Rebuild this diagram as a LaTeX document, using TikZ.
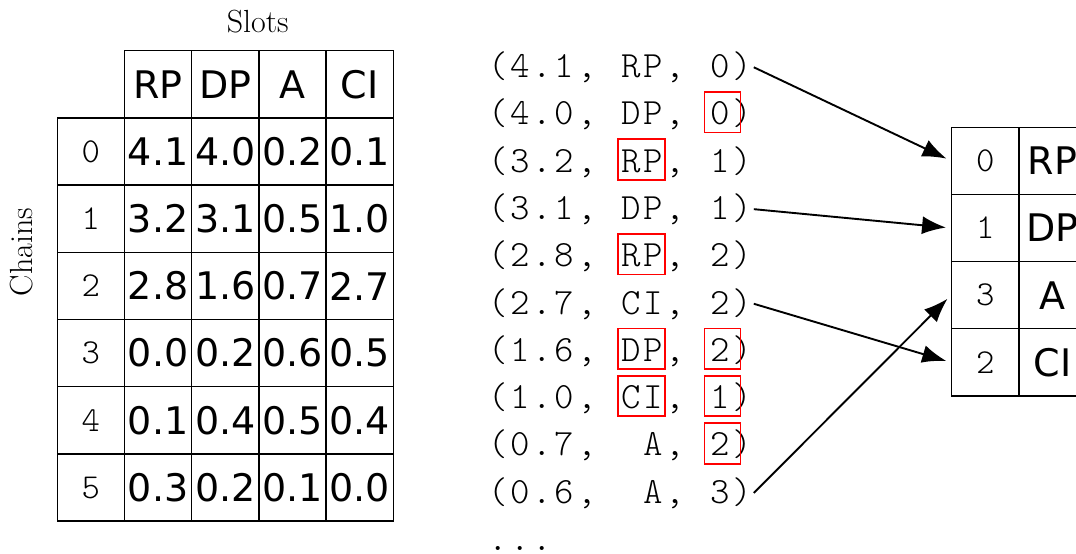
\documentclass[tikz,border=0pt]{standalone}
\usepackage{fontspec}
\newfontfamily\dvs{DejaVu Sans}
\usetikzlibrary{arrows.meta}
\def\mtloop#1{\ifx#1\relax\else\mtchar#1\expandafter\mtloop\fi}
\def\mtchar#1{\ifx#1*\hbox to 22.25pt{}\else\hbox to 22.25pt{\hss#1\hss}\fi}
\newcommand\mtline[1]{\mtloop#1\relax}
\tikzset{
 cell/.style={draw, line width=1.3pt, minimum width=67.2pt, minimum height=67.2pt, inner sep=0pt, font=\dvs\fontsize{38}{40}\selectfont},
 idx/.style={cell, font=\ttfamily\fontseries{l}\fontsize{35}{38}\selectfont},
 lst/.style={anchor=base west, inner sep=0pt, font=\ttfamily\fontseries{l}\fontsize{37}{40}\selectfont},
 redbox/.style={draw=red, line width=1.8pt, minimum height=40.5pt, inner sep=0pt},
 wordbox/.style={redbox, minimum width=47pt},
 digbox/.style={redbox, minimum width=36pt},
 arr/.style={-{Latex[length=24pt,width=18pt]}, line width=1.9pt, shorten >=5pt},
 lab/.style={font=\fontsize{32}{36}\selectfont}
}
\begin{document}
\begin{tikzpicture}[x=1pt,y=-1pt]
\useasboundingbox (0,0) rectangle (1076,554);
\clip (0,0) rectangle (1076,554);
% titles
\node[lab] (slots) at (257.7,22) {Slots};
\node[lab, rotate=90] (chains) at (22,252) {Chains};
% left table header
\node[cell] (h1) at (158.1,84.3) {RP};
\node[cell] (h2) at (225.3,84.3) {DP};
\node[cell] (h3) at (292.5,84.3) {A};
\node[cell] (h4) at (359.7,84.3) {CI};
% row 0
\node[idx] (r0) at (90.9,151.5) {0};
\node[cell] (c01) at (158.1,151.5) {4.1};
\node[cell] (c02) at (225.3,151.5) {4.0};
\node[cell] (c03) at (292.5,151.5) {0.2};
\node[cell] (c04) at (359.7,151.5) {0.1};
% row 1
\node[idx] (r1) at (90.9,218.7) {1};
\node[cell] (c11) at (158.1,218.7) {3.2};
\node[cell] (c12) at (225.3,218.7) {3.1};
\node[cell] (c13) at (292.5,218.7) {0.5};
\node[cell] (c14) at (359.7,218.7) {1.0};
% row 2
\node[idx] (r2) at (90.9,285.9) {2};
\node[cell] (c21) at (158.1,285.9) {2.8};
\node[cell] (c22) at (225.3,285.9) {1.6};
\node[cell] (c23) at (292.5,285.9) {0.7};
\node[cell] (c24) at (359.7,285.9) {2.7};
% row 3
\node[idx] (r3) at (90.9,353.1) {3};
\node[cell] (c31) at (158.1,353.1) {0.0};
\node[cell] (c32) at (225.3,353.1) {0.2};
\node[cell] (c33) at (292.5,353.1) {0.6};
\node[cell] (c34) at (359.7,353.1) {0.5};
% row 4
\node[idx] (r4) at (90.9,420.3) {4};
\node[cell] (c41) at (158.1,420.3) {0.1};
\node[cell] (c42) at (225.3,420.3) {0.4};
\node[cell] (c43) at (292.5,420.3) {0.5};
\node[cell] (c44) at (359.7,420.3) {0.4};
% row 5
\node[idx] (r5) at (90.9,487.5) {5};
\node[cell] (c51) at (158.1,487.5) {0.3};
\node[cell] (c52) at (225.3,487.5) {0.2};
\node[cell] (c53) at (292.5,487.5) {0.1};
\node[cell] (c54) at (359.7,487.5) {0.0};
% sorted list
\node[lst] (L1) at (486.4,77.5) {\mtline{(4.1,*RP,*0)}};
\node[lst] (L2) at (486.4,124.8) {\mtline{(4.0,*DP,*0)}};
\node[lst] (L3) at (486.4,172.1) {\mtline{(3.2,*RP,*1)}};
\node[lst] (L4) at (486.4,219.4) {\mtline{(3.1,*DP,*1)}};
\node[lst] (L5) at (486.4,266.7) {\mtline{(2.8,*RP,*2)}};
\node[lst] (L6) at (486.4,314.0) {\mtline{(2.7,*CI,*2)}};
\node[lst] (L7) at (486.4,361.3) {\mtline{(1.6,*DP,*2)}};
\node[lst] (L8) at (486.4,408.6) {\mtline{(1.0,*CI,*1)}};
\node[lst] (L9) at (486.4,455.9) {\mtline{(0.7,**A,*2)}};
\node[lst] (L10) at (486.4,503.2) {\mtline{(0.6,**A,*3)}};
\node[lst] (L11) at (486.4,550.5) {\mtline{...}};
% red boxes
\node[digbox] (b2d) at (722.5,112.3) {};
\node[wordbox] (b3w) at (641.8,159.6) {};
\node[wordbox] (b5w) at (641.8,254.2) {};
\node[wordbox] (b7w) at (641.8,348.8) {};
\node[digbox] (b7d) at (722.5,348.8) {};
\node[wordbox] (b8w) at (641.8,396.1) {};
\node[digbox] (b8d) at (722.5,396.1) {};
\node[digbox] (b9d) at (722.5,443.4) {};
% right table
\node[idx] (R0) at (985.3,160.8) {0};
\node[cell] (V0) at (1052.5,160.8) {RP};
\node[idx] (R1) at (985.3,228.0) {1};
\node[cell] (V1) at (1052.5,228.0) {DP};
\node[idx] (R2) at (985.3,295.2) {3};
\node[cell] (V2) at (1052.5,295.2) {A};
\node[idx] (R3) at (985.3,362.4) {2};
\node[cell] (V3) at (1052.5,362.4) {CI};
% arrows
\draw[arr] (L1.east) -- (R0.west);
\draw[arr] (L4.east) -- (R1.west);
\draw[arr] (L6.east) -- (R3.west);
\draw[arr] (L10.east) -- (R2.west);
\end{tikzpicture}
\end{document}
